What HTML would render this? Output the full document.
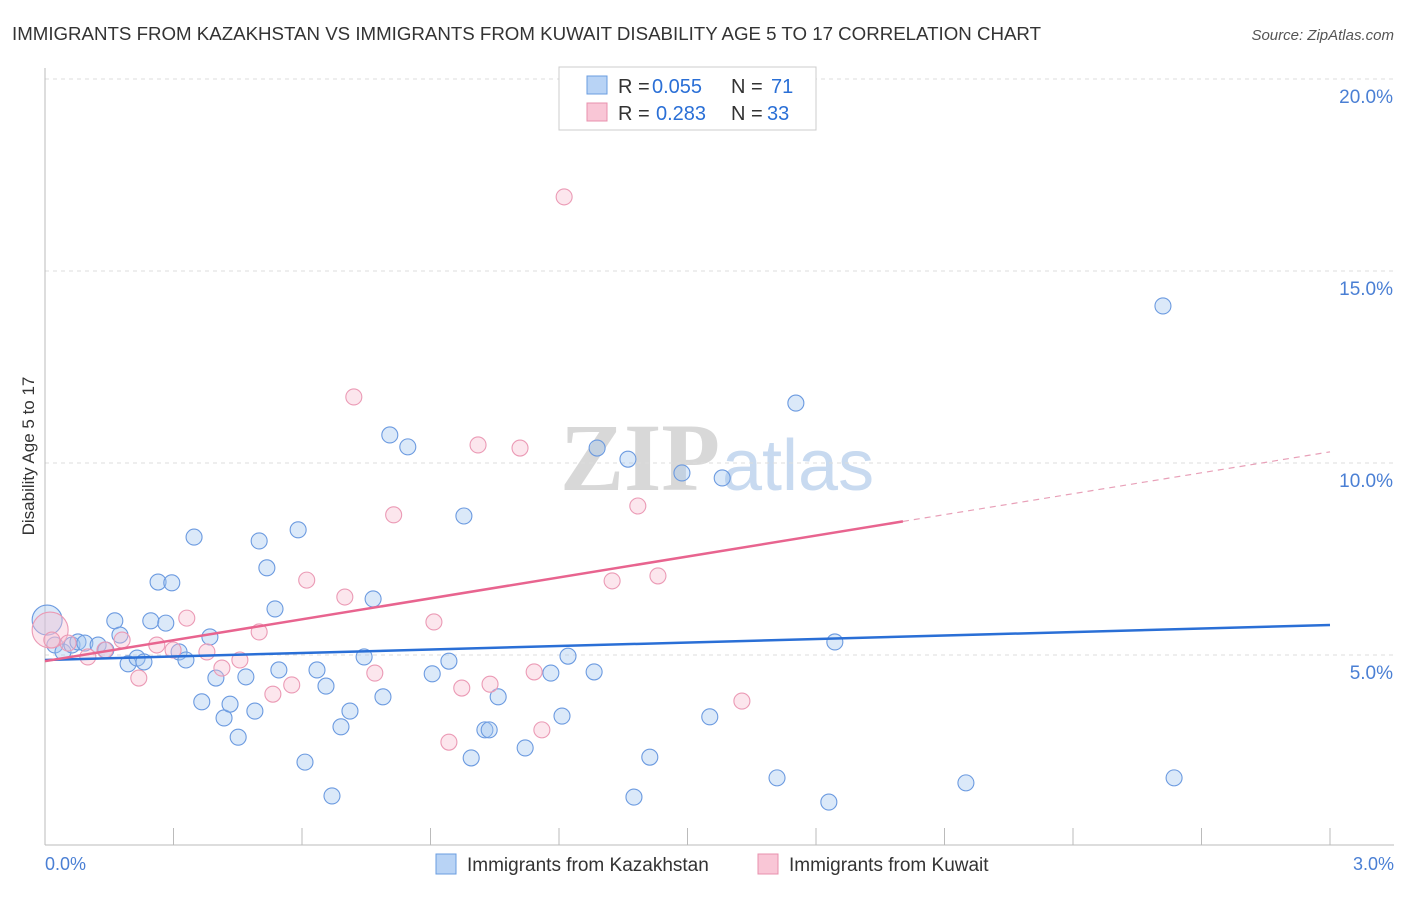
<!DOCTYPE html>
<html><head><meta charset="utf-8"><style>
body{margin:0;background:#fff;font-family:"Liberation Sans",sans-serif}
</style></head><body>
<svg width="1406" height="892" xmlns="http://www.w3.org/2000/svg" font-family="Liberation Sans, sans-serif">
<text x="12" y="40" font-size="18.7" fill="#333">IMMIGRANTS FROM KAZAKHSTAN VS IMMIGRANTS FROM KUWAIT DISABILITY AGE 5 TO 17 CORRELATION CHART</text>
<text x="1394" y="40" font-size="15" fill="#555" font-style="italic" text-anchor="end">Source: ZipAtlas.com</text>
<text x="720" y="490" font-size="96" text-anchor="end" fill="#d8d8d8" font-weight="bold" font-family="Liberation Serif, serif">ZIP</text>
<text x="722" y="490" font-size="72" fill="#c8daf0">atlas</text>
<g id="grid"></g>
<line x1="45" y1="68" x2="45" y2="845" stroke="#bbb"/>
<line x1="45" y1="845" x2="1394" y2="845" stroke="#bbb"/>
<g id="xticks"></g>
<text x="34" y="456" font-size="17" fill="#333" text-anchor="middle" transform="rotate(-90 34 456)">Disability Age 5 to 17</text>
<text x="45" y="870" font-size="18" fill="#4a7fd4">0.0%</text>
<text x="1394" y="870" font-size="18" fill="#4a7fd4" text-anchor="end">3.0%</text>
<g id="pts"></g>
<g id="lines"></g>
<g font-size="20">
<rect x="559" y="67" width="257" height="63" fill="#fff" stroke="#ccc"/>
<rect x="587" y="76" width="20" height="18" fill="#b8d3f5" stroke="#6a9de0"/>
<rect x="587" y="103" width="20" height="18" fill="#f9c6d6" stroke="#e890ad"/>
<text x="618" y="93" fill="#333">R =</text>
<text x="652" y="93" fill="#2a6fd6">0.055</text>
<text x="731" y="93" fill="#333">N =</text>
<text x="771" y="93" fill="#2a6fd6">71</text>
<text x="618" y="120" fill="#333">R =</text>
<text x="656" y="120" fill="#2a6fd6">0.283</text>
<text x="731" y="120" fill="#333">N =</text>
<text x="767" y="120" fill="#2a6fd6">33</text>
</g>
<g font-size="19">
<rect x="436" y="854" width="20" height="20" fill="#b8d3f5" stroke="#6a9de0"/>
<text x="467" y="871" fill="#333">Immigrants from Kazakhstan</text>
<rect x="758" y="854" width="20" height="20" fill="#f9c6d6" stroke="#e890ad"/>
<text x="789" y="871" fill="#333">Immigrants from Kuwait</text>
</g>
</svg>
<script>
const yTicks=[5,10,15,20];
const xTicks=[0,0.3,0.6,0.9,1.2,1.5,1.8,2.1,2.4,2.7,3.0];
const blueX=[0.005,0.023,0.042,0.063,0.077,0.093,0.124,0.142,0.163,0.175,0.194,0.215,0.231,0.247,0.264,0.282,0.296,0.313,0.329,0.348,0.366,0.385,0.399,0.418,0.432,0.451,0.469,0.49,0.5,0.518,0.537,0.546,0.591,0.607,0.635,0.656,0.67,0.691,0.712,0.745,0.766,0.789,0.805,0.847,0.904,0.943,0.978,0.995,1.027,1.037,1.058,1.121,1.181,1.207,1.221,1.282,1.289,1.361,1.375,1.412,1.487,1.552,1.581,1.709,1.753,1.83,1.844,2.15,2.61,2.636];
const blueY=[5.91,5.26,5.08,5.26,5.34,5.31,5.26,5.13,5.89,5.52,4.77,4.92,4.82,5.89,6.9,5.83,6.88,5.08,4.87,8.07,3.78,5.47,4.4,3.36,3.72,2.86,4.43,3.54,7.97,7.27,6.2,4.61,8.26,2.21,4.61,4.19,1.33,3.13,3.54,4.95,6.46,3.91,10.73,10.42,4.51,4.84,8.62,2.32,3.05,3.05,3.91,2.58,4.53,3.41,4.97,4.56,10.39,10.1,1.3,2.34,9.74,3.39,9.61,1.8,11.56,1.17,5.34,1.67,14.09,1.8];
const pinkX=[0.012,0.016,0.054,0.1,0.14,0.18,0.219,0.261,0.299,0.331,0.378,0.413,0.455,0.5,0.532,0.576,0.611,0.7,0.721,0.77,0.814,0.908,0.943,0.973,1.011,1.039,1.109,1.142,1.16,1.212,1.324,1.384,1.431,1.627];
const pinkY=[5.65,5.39,5.31,4.95,5.13,5.39,4.4,5.26,5.13,5.96,5.08,4.66,4.87,5.6,3.98,4.22,6.95,6.51,11.72,4.53,8.65,5.86,2.73,4.14,10.47,4.24,10.39,4.56,3.05,16.93,6.93,8.88,7.06,3.8];
const blueTrend=[4.87,5.78];
const pinkTrend=[4.84,10.29];
const NS="http://www.w3.org/2000/svg";
const X=v=>45+v/3*1285, Y=v=>847-v*38.4;
function mk(t,p,a){const e=document.createElementNS(NS,t);for(const k in a)e.setAttribute(k,a[k]);p.appendChild(e);return e;}
const grid=document.getElementById('grid');
yTicks.forEach(t=>{
 const l=mk('line',grid,{x1:45,x2:1394,y1:Y(t),y2:Y(t),stroke:'#ddd','stroke-dasharray':'4,4'});
 
 
 const tx=mk('text',grid,{x:1393,y:Y(t)+24,'font-size':19,fill:'#4a7fd4','text-anchor':'end'});
 tx.textContent=t.toFixed(1)+'%';
 
 
});
const xt=document.getElementById('xticks');
xTicks.forEach(t=>{
 const l=mk('line',xt,{x1:X(t),x2:X(t),y1:828,y2:845,stroke:'#bbb'});
 
 
});
const pts=document.getElementById('pts');
blueX.forEach((x,i)=>{
 const c=mk('circle',pts,{cx:X(x),cy:Y(blueY[i]),r:i==0?15:8,fill:'rgba(160,196,240,0.38)',stroke:'#6b9ae0','stroke-width':1.1});
 
 
});
pinkX.forEach((x,i)=>{
 const c=mk('circle',pts,{cx:X(x),cy:Y(pinkY[i]),r:i==0?18:8,fill:'rgba(248,190,208,0.38)',stroke:'#eb9ab5','stroke-width':1.1});
 
 
});
const ln=document.getElementById('lines');
const b=mk('line',ln,{x1:X(0),y1:Y(blueTrend[0]),x2:X(3),y2:Y(blueTrend[1]),stroke:'#2a6fd6','stroke-width':2.5});


const pm=v=>pinkTrend[0]+(pinkTrend[1]-pinkTrend[0])*v/3;
const p1=mk('line',ln,{x1:X(0),y1:Y(pm(0)),x2:X(2.003),y2:Y(pm(2.003)),stroke:'#e8648f','stroke-width':2.5});


const p2=mk('line',ln,{x1:X(2.003),y1:Y(pm(2.003)),x2:X(3),y2:Y(pm(3)),stroke:'#e8a0b8','stroke-width':1.2,'stroke-dasharray':'6,5'});


</script>
</body></html>
